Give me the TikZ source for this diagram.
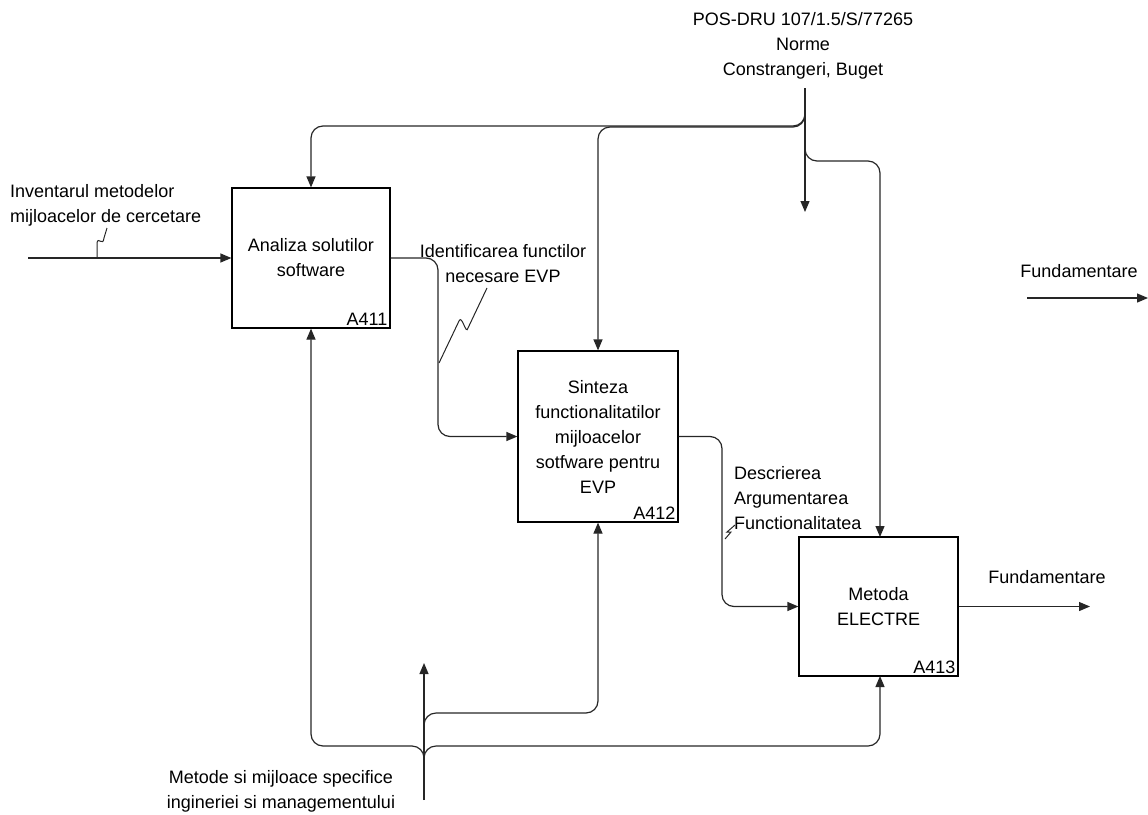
\documentclass[tikz,border=0pt]{standalone}
\usepackage{fontspec}
\setmainfont{Liberation Sans}
\usetikzlibrary{arrows.meta,calc}
\begin{document}
\begin{tikzpicture}[x=1pt,y=-1pt,
  every node/.style={font=\fontsize{18}{25}\selectfont},
  actbox/.style={draw=black,line width=1.2pt,inner sep=0pt,align=center},
  idlabel/.style={anchor=south east,inner sep=3pt},
  flow/.style={draw=black!85,line width=1.2pt,rounded corners=12pt,-{Triangle[length=11pt,width=9pt]}},
  plain/.style={draw=black!85,line width=1.2pt,rounded corners=12pt},
  squig/.style={draw=black!85,line width=1pt},
  lbl/.style={inner sep=0pt,align=center}]
\useasboundingbox (0,0) rectangle (1148,814);

% activity boxes
\node[actbox,minimum width=158pt,minimum height=140pt] (a411) at (311,258) {Analiza solutilor\\software};
\node[actbox,minimum width=160pt,minimum height=171pt] (a412) at (598,436.5) {Sinteza\\functionalitatilor\\mijloacelor\\sotfware pentru\\EVP};
\node[actbox,minimum width=159pt,minimum height=139pt] (a413) at (878.5,606.5) {Metoda\\ELECTRE};
\node[idlabel] at (a411.south east) {A411};
\node[idlabel] at (a412.south east) {A412};
\node[idlabel] at (a413.south east) {A413};

% labels
\node[lbl] (ctrl) at (803,46) {POS-DRU 107/1.5/S/77265\\Norme\\Constrangeri, Buget};
\node[lbl,align=left,anchor=west] (inp) at (10,205) {Inventarul metodelor\\mijloacelor de cercetare};
\node[lbl] (ident) at (503,264) {Identificarea functilor\\necesare EVP};
\node[lbl,align=left,anchor=west] (descr) at (734,498) {Descrierea\\Argumentarea\\Functionalitatea};
\node[lbl] (fund1) at (1047,577) {Fundamentare};
\node[lbl] (fund2) at (1079,271) {Fundamentare};
\node[lbl] (mech) at (281,791) {Metode si mijloace specifice\\ingineriei si managementului};

% free ends
\coordinate (cin) at (805,88);
\coordinate (cout) at (805,212);
\coordinate (iin) at (28,258);
\coordinate (fout) at (1090,606.5);
\coordinate (lone0) at (1027,298);
\coordinate (lone1) at (1148,298);
\coordinate (min) at (424,800);
\coordinate (mout) at (424,663);

% controls
\draw[flow] (cin) -- (cout);
\draw[flow] (805,100) -- (805,126) -- (a411.north |- 0,126) -- (a411.north);
\draw[flow] (805,100) -- (805,127) -- (a412.north |- 0,127) -- (a412.north);
\draw[flow] (805,140) -- (805,161) -- (880,161) -- (880,537);

% input and internal flows
\draw[flow] (iin) -- (a411.west);
\draw[flow] (a411.east) -- (438,258) -- (438,436.5) -- (a412.west);
\draw[flow] (a412.east) -- (722,436.5) -- (722,606.5) -- (a413.west);
\draw[flow] (a413.east) -- (fout);
\draw[flow] (lone0) -- (lone1);

% mechanisms
\draw[flow] (min) -- (mout);
\draw[flow] (424,765) -- (424,746) -- (a411.south |- 0,746) -- (a411.south);
\draw[flow] (424,765) -- (424,746) -- (880,746) -- (880,676);
\draw[flow] (424,740) -- (424,713) -- (a412.south |- 0,713) -- (a412.south);

% squiggles tying labels to arrows
\draw[squig] (97,258) -- (97,243) .. controls (98,236) and (103,247) .. (104,238) -- (107,228);
\draw[squig] (439,363) -- (459,321) .. controls (462,314) and (466,336) .. (468,328) -- (487,288);
\draw[squig] (725,539) -- (731,532) -- (727,532) -- (735,525);
\end{tikzpicture}
\end{document}
